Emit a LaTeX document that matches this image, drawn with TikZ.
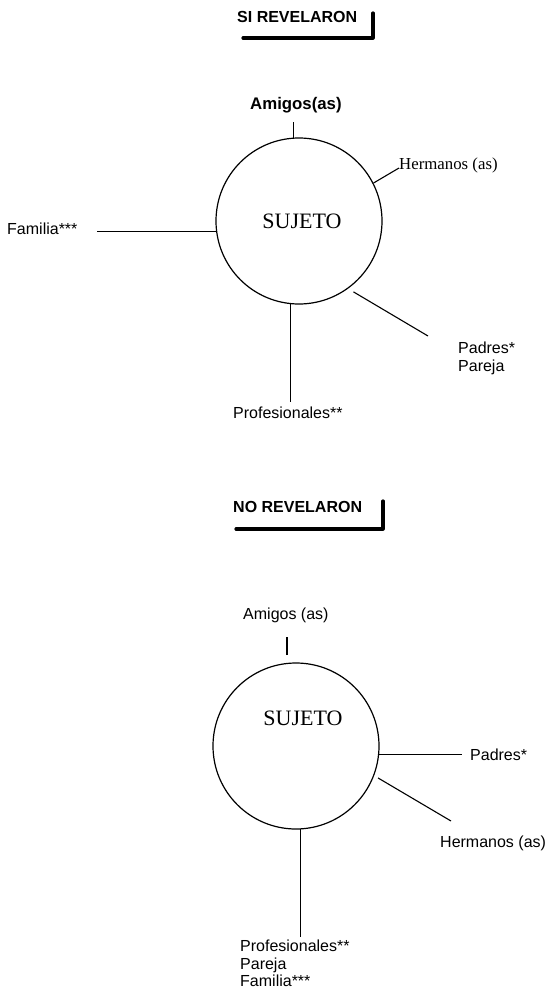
\documentclass[tikz,border=0pt]{standalone}
\usepackage{fontspec}
\setmainfont{Liberation Sans}
\newfontfamily\serifface{Liberation Serif}
\begin{document}
\begin{tikzpicture}[x=1pt,y=-1pt,
  lbl/.style={inner sep=0pt, anchor=west, font=\fontsize{16}{17.5}\selectfont},
  ttl/.style={inner sep=0pt, anchor=west, font=\bfseries\fontsize{16}{18}\selectfont},
  subj/.style={circle, draw, line width=1.2pt, minimum size=166pt, inner sep=0pt,
               font=\serifface\fontsize{22}{24}\selectfont},
  tie/.style={line width=1.1pt},
  bracket/.style={line width=3.2pt, line join=round, line cap=round}]
\useasboundingbox (0,0) rectangle (551,990);

% ---------- upper diagram: SI REVELARON ----------
\node[ttl] (si) at (237,17) {SI REVELARON};
\draw[bracket] (243,38) -- (373,38) -- (373,13);

\node[subj] (c1) at (299,221) {\hspace*{6pt}SUJETO};

\node[ttl, font=\bfseries\fontsize{16.8}{18}\selectfont] (am1) at (250,105) {Amigos(as)};
\node[inner sep=0pt, anchor=west, font=\serifface\fontsize{16.8}{18}\selectfont]
  (he1) at (399,165) {Hermanos (as)};
\node[lbl] (fa1) at (7,229) {Familia***};
\node[lbl, align=left, anchor=north west] (pa1) at (458,342) {Padres*\\Pareja};
\node[lbl] (pr1) at (233,413) {Profesionales**};

\coordinate (am1end) at (293,122);
\coordinate (he1end) at (399,168);
\coordinate (fa1end) at (97,231);
\coordinate (pa1end) at (428,336);
\coordinate (pr1end) at (291,402);

\draw[tie] (c1.94) -- (c1.94 |- am1end);
\draw[tie] (c1.27) -- (he1end);
\draw[tie] (c1.187) -- (c1.187 -| fa1end);
\draw[tie] ([shift={(3,5)}]c1.-52) -- (pa1end);
\draw[tie] (c1.264.5) -- (c1.264.5 |- pr1end);

% ---------- lower diagram: NO REVELARON ----------
\node[ttl] (no) at (233,507) {NO REVELARON};
\draw[bracket] (236,529) -- (383,529) -- (383,501);

% the name sits in the upper half of this circle
\node[subj, label={[font=\serifface\fontsize{22}{24}\selectfont, shift={(7pt,28pt)}]center:SUJETO}]
  (c2) at (296,746) {};

\node[lbl] (am2) at (243,615) {Amigos (as)};
\node[lbl] (pa2) at (470,755) {Padres*};
\node[lbl] (he2) at (440,843) {Hermanos (as)};
\node[lbl, align=left, anchor=north west] (pr2) at (240,940) {Profesionales**\\Pareja\\Familia***};

\coordinate (am2top) at (287,637);
\coordinate (am2bot) at (287,655);
\coordinate (pa2end) at (462,755);
\coordinate (he2end) at (451,821);
\coordinate (pr2end) at (300,937);

\draw[tie] (am2bot) -- (am2top);
\draw[tie] (c2.-6.2) -- (c2.-6.2 -| pa2end);
\draw[tie] ([shift={(4,2)}]c2.-21) -- (he2end);
\draw[tie] (c2.-87.2) -- (c2.-87.2 |- pr2end);
\end{tikzpicture}
\end{document}
